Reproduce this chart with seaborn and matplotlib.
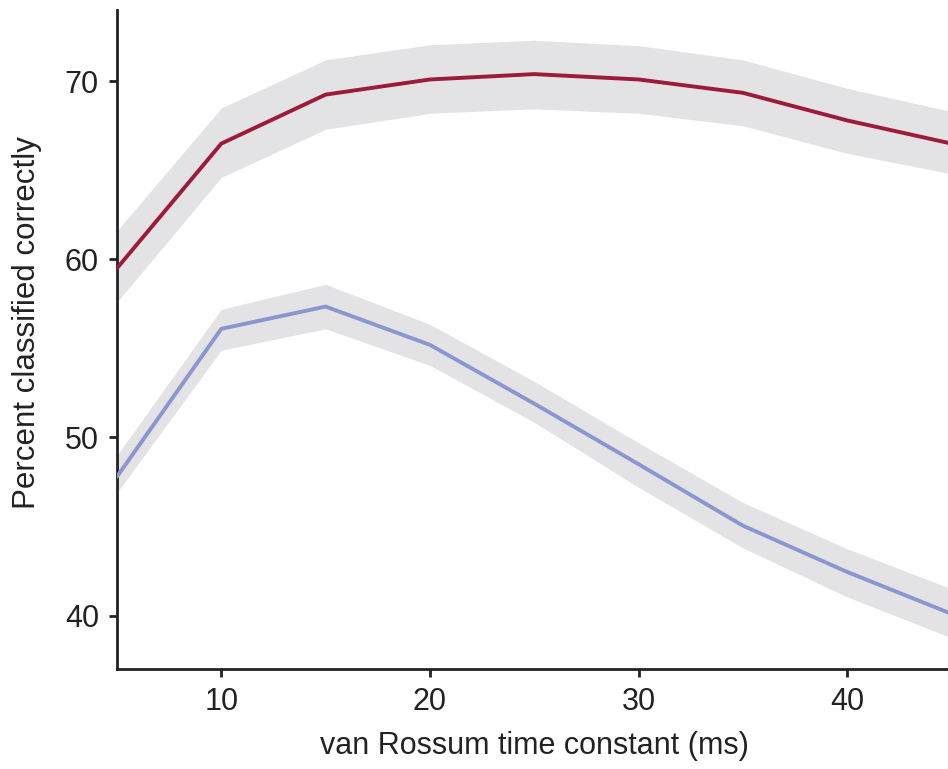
import matplotlib
matplotlib.use("Agg")
import matplotlib.pyplot as plt
import seaborn as sns
import pandas as pd

# van Rossum time constants (ms)
tau = [5, 10, 15, 20, 25, 30, 35, 40, 45]

red_mean = [59.5, 66.5, 69.25, 70.1, 70.4, 70.1, 69.35, 67.8, 66.5]
red_low = [57.6, 64.6, 67.3, 68.2, 68.45, 68.2, 67.5, 65.95, 64.8]
red_high = [61.6, 68.5, 71.2, 72.05, 72.3, 72.0, 71.2, 69.6, 68.3]

blue_mean = [47.8, 56.1, 57.35, 55.2, 51.9, 48.5, 45.05, 42.45, 40.1]
blue_low = [46.9, 54.9, 56.1, 54.05, 50.85, 47.2, 43.8, 41.05, 38.75]
blue_high = [49.0, 57.2, 58.6, 56.35, 53.15, 49.7, 46.35, 43.75, 41.5]

red_color = "#9e1a3b"
blue_color = "#8b95d0"
band_color = "#e3e3e5"
ink = "#222222"

sns.set_style("ticks")
plt.rcParams["font.family"] = ["Liberation Sans", "DejaVu Sans"]

df = pd.DataFrame({
    "tau": tau * 2,
    "pct": red_mean + blue_mean,
    "group": ["red"] * len(tau) + ["blue"] * len(tau),
})

fig = plt.figure(figsize=(9.48, 7.69), dpi=100)
ax = fig.add_axes([0.1234, 0.130, 1.0037 - 0.1234, 0.987 - 0.130])

ax.fill_between(tau, red_low, red_high, color=band_color, lw=0, zorder=1)
ax.fill_between(tau, blue_low, blue_high, color=band_color, lw=0, zorder=1)
sns.lineplot(data=df, x="tau", y="pct", hue="group",
             palette={"red": red_color, "blue": blue_color},
             linewidth=2.8, legend=False, ax=ax, zorder=3)

ax.set_xlim(5, 45)
ax.set_ylim(37, 74)
ax.set_xticks([10, 20, 30, 40])
ax.set_yticks([40, 50, 60, 70])

ax.set_xlabel("van Rossum time constant (ms)", fontsize=22, color=ink, labelpad=10)
ax.set_ylabel("Percent classified correctly", fontsize=22.5, color=ink, labelpad=16)
ax.yaxis.set_label_coords(-0.09, 0.525)

for side in ["top", "right"]:
    ax.spines[side].set_visible(False)
for side in ["left", "bottom"]:
    ax.spines[side].set_linewidth(2.0)
    ax.spines[side].set_color(ink)

ax.tick_params(axis="both", length=6, width=2.0, color=ink,
               labelsize=22, labelcolor=ink, pad=7)

fig.savefig("out.png", dpi=100)
